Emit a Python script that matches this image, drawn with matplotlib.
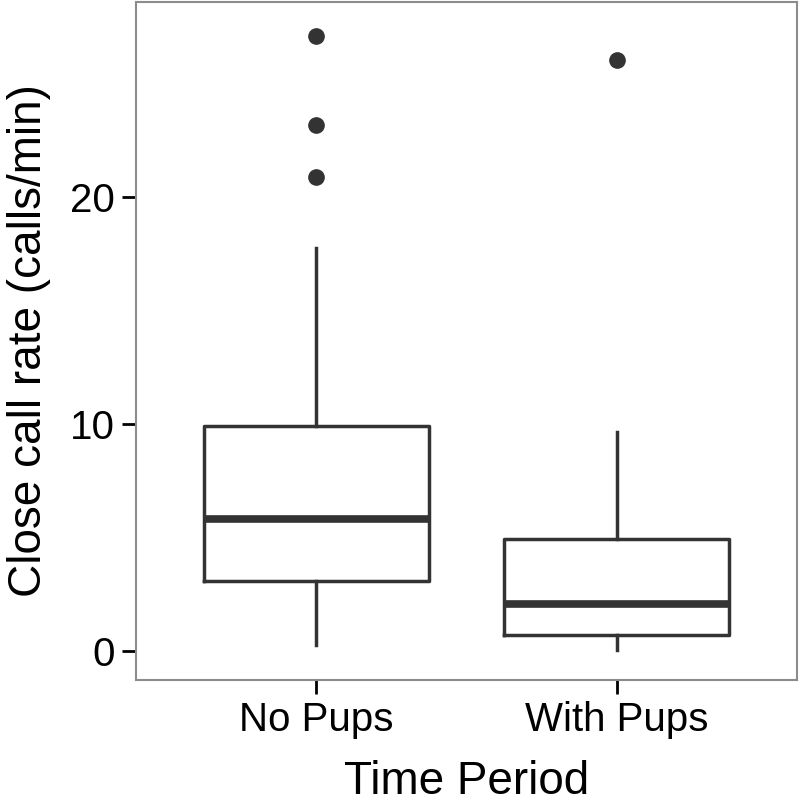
import matplotlib
matplotlib.use("Agg")
import matplotlib.pyplot as plt

plt.rcParams['font.family'] = ['Liberation Sans', 'DejaVu Sans']

groups = ["No Pups", "With Pups"]
q1 = [3.08, 0.70]
med = [5.81, 2.07]
q3 = [9.91, 4.93]
whislo = [0.26, 0.04]
whishi = [17.75, 9.65]
fliers = [[27.09, 23.17, 20.88], [26.04]]

stats = []
for i, g in enumerate(groups):
    stats.append(dict(label=g, q1=q1[i], med=med[i], q3=q3[i],
                      whislo=whislo[i], whishi=whishi[i], fliers=fliers[i]))

fig = plt.figure(figsize=(8, 8.06), dpi=100)
ax = fig.add_axes([136/800, 126/806, 661/800, 678/806])

dark = "#333333"
ax.bxp(stats, positions=[1, 2], widths=0.75, showcaps=False,
       boxprops=dict(color=dark, linewidth=2.5),
       whiskerprops=dict(color=dark, linewidth=2.5),
       medianprops=dict(color=dark, linewidth=5.5, solid_capstyle='butt'),
       flierprops=dict(marker='o', markerfacecolor=dark, markeredgecolor=dark,
                       markersize=11))

ax.set_xlim(0.4, 2.6)
ax.set_ylim(-1.28, 28.6)
ax.set_yticks([0, 10, 20])
ax.set_xticks([1, 2])
ax.set_xticklabels(groups)
ax.tick_params(axis='both', labelsize=29, length=10, width=2, color='black',
               labelcolor='black', pad=5)

for s in ax.spines.values():
    s.set_color("#8c8c8c")
    s.set_linewidth(1.5)

ax.set_xlabel("Time Period", fontsize=33, labelpad=15)
ax.set_ylabel("Close call rate (calls/min)", fontsize=33, labelpad=14)

fig.savefig("out.png", dpi=100)
